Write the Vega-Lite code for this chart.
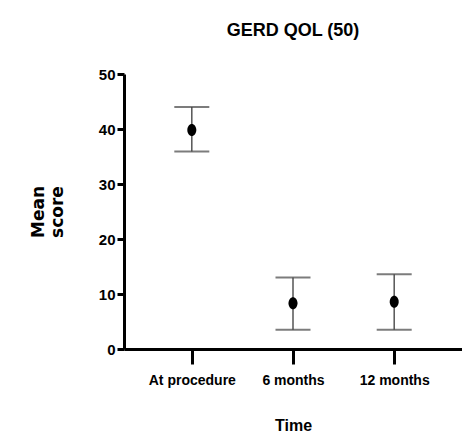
{
  "$schema": "https://vega.github.io/schema/vega-lite/v6.json",
  "autosize": "none",
  "width": 338,
  "height": 275,
  "padding": {"left": 124, "top": 74, "right": 0, "bottom": 86},
  "background": "white",
  "title": {
    "text": "GERD QOL (50)",
    "font": "Liberation Sans",
    "fontSize": 18,
    "fontWeight": "bold",
    "color": "black",
    "anchor": "middle",
    "baseline": "alphabetic",
    "offset": 13
  },
  "data": {
    "values": [
      {"time": "At procedure", "mean": 39.8, "lower": 35.9, "upper": 44.0},
      {"time": "6 months", "mean": 8.3, "lower": 3.5, "upper": 13.0},
      {"time": "12 months", "mean": 8.6, "lower": 3.5, "upper": 13.6}
    ]
  },
  "encoding": {
    "x": {
      "field": "time",
      "type": "nominal",
      "sort": ["At procedure", "6 months", "12 months"],
      "scale": {"type": "point", "padding": 0.67},
      "axis": {
        "title": "Time",
        "labelAngle": 0,
        "titleX": 169,
        "titleY": 81,
        "titleBaseline": "alphabetic"
      }
    }
  },
  "layer": [
    {
      "mark": {"type": "rule", "stroke": "#555555", "strokeWidth": 1.5},
      "encoding": {
        "y": {"field": "lower", "type": "quantitative"},
        "y2": {"field": "upper"}
      }
    },
    {
      "mark": {"type": "tick", "color": "#444444", "size": 35, "thickness": 2},
      "encoding": {
        "y": {"field": "lower", "type": "quantitative"}
      }
    },
    {
      "mark": {"type": "tick", "color": "#444444", "size": 35, "thickness": 2},
      "encoding": {
        "y": {"field": "upper", "type": "quantitative"}
      }
    },
    {
      "mark": {
        "type": "point",
        "filled": true,
        "color": "black",
        "opacity": 1,
        "size": 144,
        "shape": "M0,-1 C0.42,-1 0.75,-0.55 0.75,0 C0.75,0.55 0.42,1 0,1 C-0.42,1 -0.75,0.55 -0.75,0 C-0.75,-0.55 -0.42,-1 0,-1 Z"
      },
      "encoding": {
        "y": {
          "field": "mean",
          "type": "quantitative",
          "scale": {"domain": [0, 50], "nice": false, "zero": true},
          "axis": {
            "title": ["Mean", "score"],
            "values": [0, 10, 20, 30, 40, 50],
            "labelFontSize": 15,
            "titleFont": "DejaVu Sans",
            "titleFontSize": 17,
            "titleFontWeight": "bold",
            "titleAngle": -90,
            "titleAlign": "center",
            "titleBaseline": "alphabetic",
            "titleX": -81,
            "titleY": 137.5,
            "titleLineHeight": 19,
            "tickSize": 7,
            "labelPadding": 2
          }
        }
      }
    }
  ],
  "config": {
    "view": {"stroke": null},
    "axis": {
      "grid": false,
      "domainColor": "black",
      "domainWidth": 3,
      "tickColor": "black",
      "tickWidth": 3,
      "labelFont": "Liberation Sans",
      "labelFontSize": 14,
      "labelFontWeight": "bold",
      "labelColor": "black",
      "titleFont": "Liberation Sans",
      "titleFontSize": 16,
      "titleFontWeight": "bold",
      "titleColor": "black"
    },
    "axisX": {
      "tickSize": 15,
      "labelPadding": 9
    }
  }
}
